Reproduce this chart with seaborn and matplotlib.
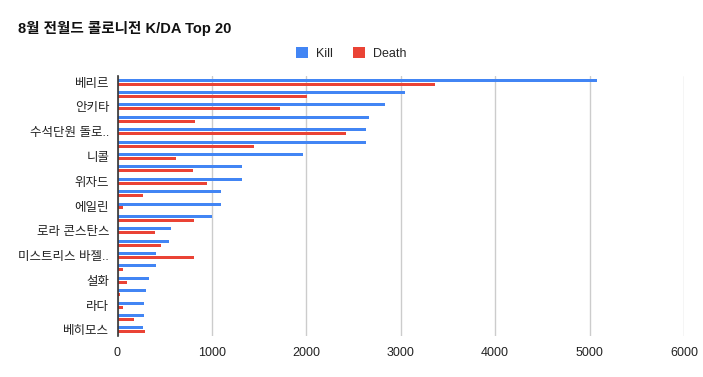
import pandas as pd
import numpy as np
import seaborn as sns
from matplotlib import pyplot as plt

# 21 rows, only every other name is shown on the axis
ranks = [str(i) for i in range(1, 22)]
shown_names = ["베리르", "안키타", "수석단원 돌로..", "니콜", "위자드", "에일린",
               "로라 콘스탄스", "미스트리스 바젤..", "설화", "라다", "베히모스"]
kills = [5078, 3047, 2835, 2666, 2635, 2635, 1965, 1320, 1320, 1100, 1100,
         1000, 562, 541, 405, 405, 332, 299, 278, 278, 268]
deaths = [3366, 2002, 1722, 826, 2420, 1450, 616, 795, 953, 268, 56,
          815, 395, 457, 815, 56, 99, 25, 56, 173, 288]

series = ["Kill", "Death"]
colors = ["#4285F4", "#EA4335"]

df = pd.DataFrame({
    "rank": ranks * 2,
    "stat": ["Kill"] * len(ranks) + ["Death"] * len(ranks),
    "value": kills + deaths,
})

sns.set_theme(style="white")
plt.rcParams["font.family"] = ["Liberation Sans", "Noto Sans CJK KR", "DejaVu Sans"]

W, H = 703, 377
fig = plt.figure(figsize=(W / 100, H / 100), dpi=100)
ax = fig.add_axes([117.5 / W, 1 - 336 / H, (684 - 117.5) / W, 260 / H])

sns.barplot(data=df, x="value", y="rank", hue="stat", hue_order=series,
            palette=colors, orient="h", width=0.646, gap=0.25, ax=ax,
            saturation=1, linewidth=0, legend=True)
# thin bars: draw them without smoothing so all rows look the same
for p in ax.patches:
    p.set_antialiased(False)

ax.set_xlim(0, 6000)
ax.set_xticks(np.arange(0, 7000, 1000))
ax.set_xticklabels([str(v) for v in range(0, 7000, 1000)], fontsize=9, color="#222222")
ax.set_ylim(len(ranks) - 0.5, -0.5)
ax.set_yticks(range(0, len(ranks), 2))
ax.set_yticklabels(shown_names, fontsize=9, color="#222222")
ax.tick_params(axis="x", length=0, pad=8)
ax.tick_params(axis="y", length=0, pad=6)
ax.set_xlabel("")
ax.set_ylabel("")

ax.grid(axis="x", color="#cccccc", linewidth=1)
ax.grid(axis="y", visible=False)
ax.set_axisbelow(True)
for s in ["top", "right", "bottom"]:
    ax.spines[s].set_visible(False)
ax.spines["left"].set_color("#333333")
ax.spines["left"].set_linewidth(1.2)
ax.spines["left"].set_zorder(5)

ax.legend(loc="center", bbox_to_anchor=(351 / W, 1 - 53.5 / H),
          bbox_transform=fig.transFigure, ncol=2, frameon=False,
          fontsize=9, handlelength=1.0, handleheight=0.9, columnspacing=1.6,
          handletextpad=0.6, borderpad=0)

fig.text(18 / W, 1 - 33 / H, "8월 전월드 콜로니전 K/DA Top 20", fontsize=10.5,
         fontweight="bold", color="#111111")

fig.savefig("out.png", dpi=100)
